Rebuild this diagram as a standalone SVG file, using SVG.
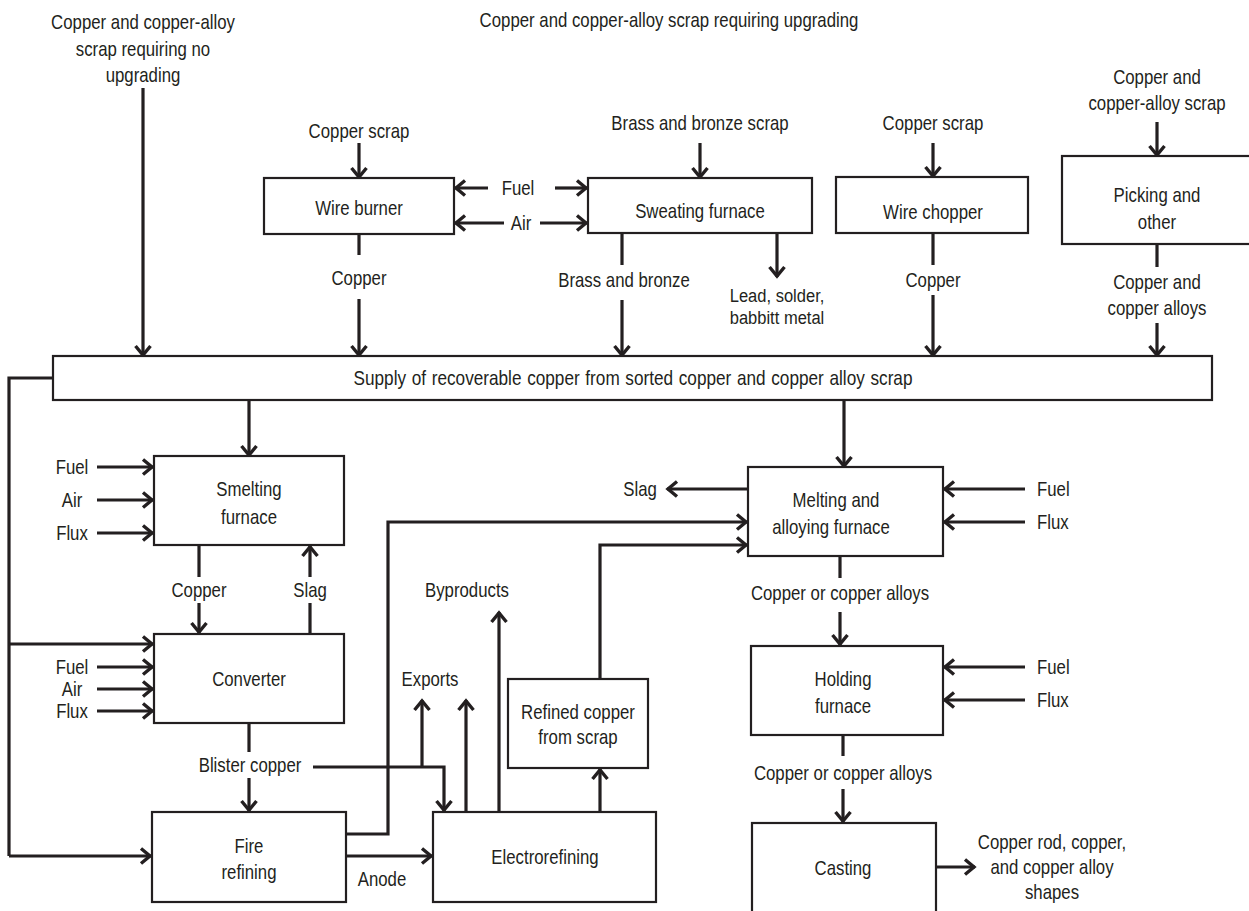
<svg xmlns="http://www.w3.org/2000/svg" width="1249" height="911" viewBox="0 0 1249 911">
  <style>
    text { font-family: "Liberation Sans Narrow", "Liberation Sans", Arial, sans-serif; font-size: 20px; fill: #231f20; text-anchor: middle; }
    .box { fill: #ffffff; stroke: #231f20; stroke-width: 2.2; }
    .flow { fill: none; stroke: #231f20; stroke-width: 3.2; stroke-linejoin: miter; }
    .arr { marker-end: url(#head); }
    .l { text-anchor: start; }
    .sm { font-size: 19px; }
  </style>
  <defs>
    <marker id="head" markerUnits="userSpaceOnUse" viewBox="-13 -9 15 18" markerWidth="15" markerHeight="18" refX="0" refY="0" orient="auto">
      <path d="M-10,-7.5 L-1,0 L-10,7.5" fill="none" stroke="#231f20" stroke-width="3.4"/>
    </marker>
  </defs>
  <rect width="1249" height="911" fill="#ffffff"/>

  <!-- free labels (condensed by a horizontal scale) -->
  <g id="labels">
    <text transform="translate(143,29) scale(.84,1)">Copper and copper-alloy</text>
    <text transform="translate(143,56) scale(.84,1)">scrap requiring no</text>
    <text transform="translate(143,82) scale(.84,1)">upgrading</text>
    <text transform="translate(669,27) scale(.84,1)">Copper and copper-alloy scrap requiring upgrading</text>
    <text transform="translate(359,138) scale(.84,1)">Copper scrap</text>
    <text transform="translate(700,130) scale(.84,1)">Brass and bronze scrap</text>
    <text transform="translate(933,130) scale(.84,1)">Copper scrap</text>
    <text transform="translate(1157,84) scale(.84,1)">Copper and</text>
    <text transform="translate(1157,110) scale(.84,1)">copper-alloy scrap</text>
    <text transform="translate(518,195) scale(.84,1)">Fuel</text>
    <text transform="translate(521,230) scale(.84,1)">Air</text>
    <text transform="translate(359,285) scale(.84,1)">Copper</text>
    <text transform="translate(624,287) scale(.84,1)">Brass and bronze</text>
    <text class="sm" transform="translate(777,302) scale(.87,1)">Lead, solder,</text>
    <text class="sm" transform="translate(777,324) scale(.87,1)">babbitt metal</text>
    <text transform="translate(933,287) scale(.84,1)">Copper</text>
    <text transform="translate(1157,289) scale(.84,1)">Copper and</text>
    <text transform="translate(1157,315) scale(.84,1)">copper alloys</text>
    <text transform="translate(72,474) scale(.84,1)">Fuel</text>
    <text transform="translate(72,507) scale(.84,1)">Air</text>
    <text transform="translate(72,540) scale(.84,1)">Flux</text>
    <text transform="translate(199,597) scale(.84,1)">Copper</text>
    <text transform="translate(310,597) scale(.84,1)">Slag</text>
    <text transform="translate(72,674) scale(.84,1)">Fuel</text>
    <text transform="translate(72,696) scale(.84,1)">Air</text>
    <text transform="translate(72,718) scale(.84,1)">Flux</text>
    <text transform="translate(250,772) scale(.84,1)">Blister copper</text>
    <text transform="translate(430,686) scale(.84,1)">Exports</text>
    <text transform="translate(467,597) scale(.84,1)">Byproducts</text>
    <text transform="translate(382,886) scale(.84,1)">Anode</text>
    <text transform="translate(640,496) scale(.84,1)">Slag</text>
    <text class="l" transform="translate(1037,496) scale(.84,1)">Fuel</text>
    <text class="l" transform="translate(1037,529) scale(.84,1)">Flux</text>
    <text transform="translate(840,600) scale(.84,1)">Copper or copper alloys</text>
    <text class="l" transform="translate(1037,674) scale(.84,1)">Fuel</text>
    <text class="l" transform="translate(1037,707) scale(.84,1)">Flux</text>
    <text transform="translate(843,780) scale(.84,1)">Copper or copper alloys</text>
    <text transform="translate(1052,849) scale(.84,1)">Copper rod, copper,</text>
    <text transform="translate(1052,874) scale(.84,1)">and copper alloy</text>
    <text transform="translate(1052,899) scale(.84,1)">shapes</text>
  </g>

  <!-- connectors -->
  <g id="connectors">
    <!-- unsorted scrap straight to supply -->
    <path class="flow arr" d="M143,88 V356"/>
    <!-- wire burner -->
    <path class="flow arr" d="M359,143 V178"/>
    <path class="flow" d="M359,234 V255"/>
    <path class="flow arr" d="M359,299 V356"/>
    <path class="flow arr" d="M488,188 H455"/>
    <path class="flow arr" d="M504,223 H455"/>
    <path class="flow arr" d="M555,188 H587"/>
    <path class="flow arr" d="M540,223 H587"/>
    <!-- sweating furnace -->
    <path class="flow arr" d="M700,143 V178"/>
    <path class="flow" d="M622,233 V265"/>
    <path class="flow arr" d="M622,300 V356"/>
    <path class="flow arr" d="M777,233 V277"/>
    <!-- wire chopper -->
    <path class="flow arr" d="M933,143 V177"/>
    <path class="flow" d="M933,233 V265"/>
    <path class="flow arr" d="M933,295 V356"/>
    <!-- picking -->
    <path class="flow arr" d="M1157,122 V156"/>
    <path class="flow" d="M1157,244 V267"/>
    <path class="flow arr" d="M1157,323 V356"/>
    <!-- supply outputs -->
    <path class="flow arr" d="M249,400 V456"/>
    <path class="flow arr" d="M844,400 V467"/>
    <path class="flow" d="M53,378 H9 V856"/>
    <path class="flow arr" d="M9,644 H153"/>
    <path class="flow arr" d="M9,856 H151"/>
    <!-- smelting inputs -->
    <path class="flow arr" d="M97,467 H153"/>
    <path class="flow arr" d="M97,500 H153"/>
    <path class="flow arr" d="M97,533 H153"/>
    <!-- smelting / converter -->
    <path class="flow" d="M199,545 V577"/>
    <path class="flow arr" d="M199,603 V633"/>
    <path class="flow" d="M310,634 V603"/>
    <path class="flow arr" d="M310,577 V546"/>
    <path class="flow arr" d="M97,667 H153"/>
    <path class="flow arr" d="M97,689 H153"/>
    <path class="flow arr" d="M97,711 H153"/>
    <!-- blister copper -->
    <path class="flow" d="M249,723 V752"/>
    <path class="flow arr" d="M249,778 V811"/>
    <path class="flow arr" d="M313,767 H444 V811"/>
    <path class="flow arr" d="M422,767 V700"/>
    <!-- electrorefining outputs -->
    <path class="flow arr" d="M466,812 V700"/>
    <path class="flow arr" d="M499,812 V612"/>
    <path class="flow arr" d="M600,812 V769"/>
    <path class="flow arr" d="M600,679 V545 H747"/>
    <!-- fire refining outputs -->
    <path class="flow arr" d="M346,834 H388 V522 H747"/>
    <path class="flow arr" d="M346,856 H432"/>
    <!-- melting furnace -->
    <path class="flow arr" d="M748,489 H667"/>
    <path class="flow arr" d="M1025,489 H944"/>
    <path class="flow arr" d="M1025,522 H944"/>
    <path class="flow" d="M840,556 V578"/>
    <path class="flow arr" d="M840,612 V645"/>
    <!-- holding furnace -->
    <path class="flow arr" d="M1025,667 H944"/>
    <path class="flow arr" d="M1025,700 H944"/>
    <path class="flow" d="M843,735 V756"/>
    <path class="flow arr" d="M843,789 V822"/>
    <!-- casting -->
    <path class="flow arr" d="M936,867 H975"/>
  </g>

  <!-- process boxes -->
  <g id="wire-burner">
    <rect class="box" x="264" y="178" width="190" height="56"/>
    <text transform="translate(359,215) scale(.84,1)">Wire burner</text>
  </g>
  <g id="sweating-furnace">
    <rect class="box" x="588" y="178" width="224" height="55"/>
    <text transform="translate(700,218) scale(.84,1)">Sweating furnace</text>
  </g>
  <g id="wire-chopper">
    <rect class="box" x="836" y="177" width="192" height="56"/>
    <text transform="translate(933,219) scale(.84,1)">Wire chopper</text>
  </g>
  <g id="picking">
    <rect class="box" x="1062" y="156" width="190" height="88"/>
    <text transform="translate(1157,202) scale(.84,1)">Picking and</text>
    <text transform="translate(1157,229) scale(.84,1)">other</text>
  </g>
  <g id="supply">
    <rect class="box" x="53" y="356" width="1159" height="44"/>
    <text transform="translate(633,385) scale(.86,1)" word-spacing="1">Supply of recoverable copper from sorted copper and copper alloy scrap</text>
  </g>
  <g id="smelting-furnace">
    <rect class="box" x="154" y="456" width="190" height="89"/>
    <text transform="translate(249,496) scale(.84,1)">Smelting</text>
    <text transform="translate(249,524) scale(.84,1)">furnace</text>
  </g>
  <g id="converter">
    <rect class="box" x="154" y="634" width="190" height="89"/>
    <text transform="translate(249,686) scale(.84,1)">Converter</text>
  </g>
  <g id="fire-refining">
    <rect class="box" x="152" y="812" width="194" height="90"/>
    <text transform="translate(249,853) scale(.84,1)">Fire</text>
    <text transform="translate(249,879) scale(.84,1)">refining</text>
  </g>
  <g id="electrorefining">
    <rect class="box" x="433" y="812" width="223" height="90"/>
    <text transform="translate(545,864) scale(.84,1)">Electrorefining</text>
  </g>
  <g id="refined-copper">
    <rect class="box" x="508" y="679" width="140" height="89"/>
    <text transform="translate(578,719) scale(.84,1)">Refined copper</text>
    <text transform="translate(578,744) scale(.84,1)">from scrap</text>
  </g>
  <g id="melting-furnace">
    <rect class="box" x="748" y="467" width="195" height="89"/>
    <text transform="translate(836,507) scale(.84,1)">Melting and</text>
    <text transform="translate(831,534) scale(.84,1)">alloying furnace</text>
  </g>
  <g id="holding-furnace">
    <rect class="box" x="751" y="646" width="192" height="89"/>
    <text transform="translate(843,686) scale(.84,1)">Holding</text>
    <text transform="translate(843,713) scale(.84,1)">furnace</text>
  </g>
  <g id="casting">
    <rect class="box" x="752" y="823" width="184" height="100"/>
    <text transform="translate(843,875) scale(.84,1)">Casting</text>
  </g>
</svg>
